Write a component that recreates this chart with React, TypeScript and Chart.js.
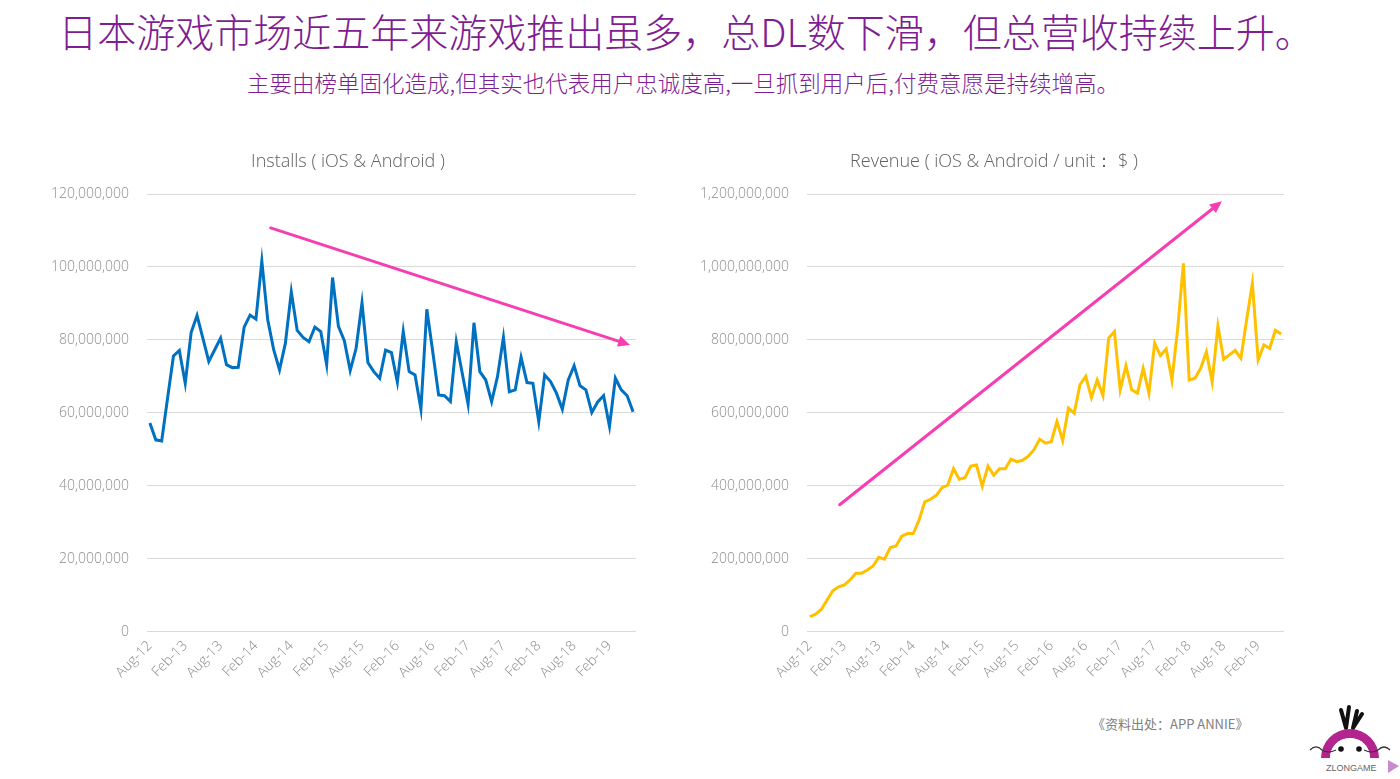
import React, { useEffect, useRef } from "react";
import { Chart, registerables } from "chart.js";

Chart.register(...registerables);

// Monthly categories, Aug-12 .. Jun-19
const months: string[] = [
  "Aug-12", "Sep-12", "Oct-12", "Nov-12", "Dec-12",
  "Jan-13", "Feb-13", "Mar-13", "Apr-13", "May-13", "Jun-13", "Jul-13", "Aug-13", "Sep-13", "Oct-13", "Nov-13", "Dec-13",
  "Jan-14", "Feb-14", "Mar-14", "Apr-14", "May-14", "Jun-14", "Jul-14", "Aug-14", "Sep-14", "Oct-14", "Nov-14", "Dec-14",
  "Jan-15", "Feb-15", "Mar-15", "Apr-15", "May-15", "Jun-15", "Jul-15", "Aug-15", "Sep-15", "Oct-15", "Nov-15", "Dec-15",
  "Jan-16", "Feb-16", "Mar-16", "Apr-16", "May-16", "Jun-16", "Jul-16", "Aug-16", "Sep-16", "Oct-16", "Nov-16", "Dec-16",
  "Jan-17", "Feb-17", "Mar-17", "Apr-17", "May-17", "Jun-17", "Jul-17", "Aug-17", "Sep-17", "Oct-17", "Nov-17", "Dec-17",
  "Jan-18", "Feb-18", "Mar-18", "Apr-18", "May-18", "Jun-18", "Jul-18", "Aug-18", "Sep-18", "Oct-18", "Nov-18", "Dec-18",
  "Jan-19", "Feb-19", "Mar-19", "Apr-19", "May-19", "Jun-19",
];

// Installs, millions
const installsM: number[] = [
  57.2, 52.6, 52.3, 64.0, 75.6, 77.1, 68.1, 82.0, 86.7, 80.4,
  74.1, 77.3, 80.5, 73.2, 72.4, 72.5, 83.5, 86.8, 85.7, 101.6,
  85.5, 77.4, 71.8, 79.1, 93.2, 82.6, 80.7, 79.5, 83.5, 82.3,
  73.2, 97.1, 83.7, 79.8, 71.6, 77.7, 90.2, 73.8, 71.3, 69.5,
  77.2, 76.5, 68.4, 82.3, 71.3, 70.4, 61.0, 88.4, 76.8, 64.9,
  64.7, 63.1, 79.5, 70.9, 62.4, 84.7, 71.3, 69.0, 63.1, 70.0,
  80.7, 65.8, 66.3, 75.2, 68.3, 68.1, 57.6, 70.4, 68.6, 65.4,
  61.0, 69.0, 72.9, 67.4, 66.3, 60.1, 63.0, 64.7, 56.3, 69.5,
  66.3, 64.7, 60.3,
];

// Revenue, millions of USD
const revenueM: number[] = [
  41, 48, 61, 87, 112, 123, 128, 142, 160, 160,
  169, 180, 204, 199, 231, 235, 262, 269, 269, 306,
  356, 363, 374, 395, 402, 447, 418, 422, 454, 457,
  399, 454, 429, 447, 447, 473, 466, 470, 481, 499,
  528, 517, 521, 576, 524, 613, 599, 677, 700, 642,
  690, 647, 805, 823, 663, 729, 663, 654, 722, 654,
  791, 757, 775, 690, 830, 1010, 690, 695, 722, 767,
  685, 838, 747, 759, 771, 750, 855, 955, 745, 786,
  777, 826, 816,
];

// Trend arrows in data space: [categoryIndex, value]
const installsArrowFrom = [20.5, 110.7e6];
const installsArrowTo = [81.5, 78.6e6];
const revenueArrowFrom = [5.2, 348e6];
const revenueArrowTo = [71.7, 1180e6];

const installsTicks = { max: 120e6, step: 20e6 };
const revenueTicks = { max: 1200e6, step: 200e6 };

const installsTitle = "Installs ( iOS & Android )";
const revenueTitle = "Revenue ( iOS & Android / unit： $ )";

const LATIN = "'Open Sans', 'Noto Sans', sans-serif";
const CJK = "'Noto Sans CJK SC', 'Noto Sans', sans-serif";

const arrowPlugin = {
  id: "trendArrow",
  afterDatasetsDraw(chart: any, _args: any, opts: any) {
    if (!opts || !opts.from || !opts.to) return;
    const xs = chart.scales.x;
    const ys = chart.scales.y;
    const x0 = xs.getPixelForValue(opts.from[0]);
    const y0 = ys.getPixelForValue(opts.from[1]);
    const x1 = xs.getPixelForValue(opts.to[0]);
    const y1 = ys.getPixelForValue(opts.to[1]);
    const ang = Math.atan2(y1 - y0, x1 - x0);
    const headLen = 12;
    const headW = 5.5;
    const ctx = chart.ctx;
    ctx.save();
    ctx.strokeStyle = opts.color;
    ctx.fillStyle = opts.color;
    ctx.lineWidth = 3;
    ctx.lineCap = "round";
    const bx = x1 - Math.cos(ang) * headLen;
    const by = y1 - Math.sin(ang) * headLen;
    ctx.beginPath();
    ctx.moveTo(x0, y0);
    ctx.lineTo(bx + Math.cos(ang) * 2, by + Math.sin(ang) * 2);
    ctx.stroke();
    ctx.beginPath();
    ctx.moveTo(x1, y1);
    ctx.lineTo(bx + Math.sin(ang) * headW, by - Math.cos(ang) * headW);
    ctx.lineTo(bx - Math.sin(ang) * headW, by + Math.cos(ang) * headW);
    ctx.closePath();
    ctx.fill();
    ctx.restore();
  },
};

function makeConfig(
  values: number[],
  color: string,
  ticks: { max: number; step: number },
  arrowFrom: number[],
  arrowTo: number[],
  padding: any
): any {
  return {
    type: "line",
    data: {
      labels: months,
      datasets: [
        {
          data: values.map((v) => v * 1e6),
          borderColor: color,
          borderWidth: 3,
          pointRadius: 0,
          tension: 0,
          fill: false,
        },
      ],
    },
    plugins: [arrowPlugin],
    options: {
      animation: false,
      responsive: true,
      maintainAspectRatio: false,
      layout: { padding },
      plugins: {
        legend: { display: false },
        tooltip: { enabled: false },
        title: { display: false },
        trendArrow: { from: arrowFrom, to: arrowTo, color: "#F63EB3" },
      },
      scales: {
        x: {
          offset: true,
          grid: { display: false, drawTicks: false },
          border: { display: false },
          ticks: {
            autoSkip: false,
            minRotation: 45,
            maxRotation: 45,
            color: "#8c8c8c",
            padding: 6,
            font: { family: LATIN, size: 14, weight: "300" },
            callback: (_v: any, i: number) => (i % 6 === 0 ? months[i] : ""),
          },
        },
        y: {
          min: 0,
          max: ticks.max,
          grid: { color: "#d9d9d9", lineWidth: 1, drawTicks: false },
          border: { display: false },
          ticks: {
            stepSize: ticks.step,
            color: "#8c8c8c",
            padding: 18,
            font: { family: LATIN, size: 14, weight: "300" },
            callback: (v: any) => Number(v).toLocaleString("en-US"),
          },
        },
      },
    },
  };
}

function LineChart(props: { config: any; style: React.CSSProperties }) {
  const ref = useRef<HTMLCanvasElement | null>(null);
  useEffect(() => {
    if (!ref.current) return;
    const chart = new Chart(ref.current, props.config);
    return () => chart.destroy();
  }, []);
  return (
    <div style={{ position: "absolute", ...props.style }}>
      <canvas ref={ref} />
    </div>
  );
}

function ChartTitle(props: { text: string; center: number }) {
  return (
    <div
      style={{
        position: "absolute",
        left: props.center - 250,
        width: 500,
        top: 148,
        textAlign: "center",
        fontFamily: LATIN,
        fontWeight: 300,
        fontSize: 18,
        lineHeight: "24px",
        color: "#606060",
        whiteSpace: "nowrap",
      }}
    >
      {props.text}
    </div>
  );
}

function Logo() {
  return (
    <svg
      width="92"
      height="74"
      viewBox="0 0 92 74"
      style={{ position: "absolute", left: 1308, top: 704 }}
    >
      <path d="M38 24 L33 6 M38 24 L41 3 M45 24 L49 7 M45 24 L54 10" stroke="#111" strokeWidth="4" strokeLinecap="round" fill="none" />
      <path d="M13 54 A29 29 0 0 1 71 54 L62 54 A20 20 0 0 0 22 54 Z" fill="#B3248F" />
      <path d="M22 54 A20 20 0 0 1 62 54 Z" fill="#ffffff" />
      <circle cx="33" cy="45" r="2.8" fill="#111" />
      <circle cx="51" cy="45" r="2.8" fill="#111" />
      <path d="M2 46 Q8 40 14 46 Q20 50 28 46 M82 46 Q76 40 70 46 Q64 50 56 46" stroke="#333" strokeWidth="1.2" fill="none" />
      <text x="18" y="67" fontFamily="Arial, 'Liberation Sans', sans-serif" fontSize="9" fill="#666">ZLONGAME</text>
      <path d="M80 56 L91 62 L80 69 Z" fill="#C98BC9" />
    </svg>
  );
}

export default function App() {
  const installsConfig = makeConfig(
    installsM,
    "#0070C0",
    installsTicks,
    installsArrowFrom,
    installsArrowTo,
    { left: 13, right: 24, top: 48, bottom: 0 }
  );
  const revenueConfig = makeConfig(
    revenueM,
    "#FFC000",
    revenueTicks,
    revenueArrowFrom,
    revenueArrowTo,
    { left: 2, right: 16, top: 48, bottom: 0 }
  );
  return (
    <div
      style={{
        position: "absolute",
        left: 0,
        top: 0,
        width: 1400,
        height: 779,
        background: "#ffffff",
        overflow: "hidden",
      }}
    >
      <div
        style={{
          position: "absolute",
          left: 0,
          width: 1372,
          top: 5,
          textAlign: "center",
          fontFamily: CJK,
          fontWeight: 300,
          fontSize: 39,
          lineHeight: "50px",
          color: "#801D92",
          whiteSpace: "nowrap",
        }}
      >
        日本游戏市场近五年来游戏推出虽多，总DL数下滑，但总营收持续上升。
      </div>
      <div
        style={{
          position: "absolute",
          left: 0,
          width: 1366,
          top: 67,
          textAlign: "center",
          fontFamily: CJK,
          fontWeight: 300,
          fontSize: 22.5,
          lineHeight: "30px",
          color: "#801D92",
          whiteSpace: "nowrap",
        }}
      >
        主要由榜单固化造成,但其实也代表用户忠诚度高,一旦抓到用户后,付费意愿是持续增高。
      </div>
      <LineChart config={installsConfig} style={{ left: 20, top: 146, width: 640, height: 541 }} />
      <LineChart config={revenueConfig} style={{ left: 680, top: 146, width: 620, height: 541 }} />
      <ChartTitle text={installsTitle} center={348} />
      <ChartTitle text={revenueTitle} center={994} />
      <div
        style={{
          position: "absolute",
          left: 1092,
          top: 714,
          fontFamily: CJK,
          fontSize: 13,
          color: "#808080",
          whiteSpace: "nowrap",
        }}
      >
        《资料出处：APP ANNIE》
      </div>
      <Logo />
    </div>
  );
}
